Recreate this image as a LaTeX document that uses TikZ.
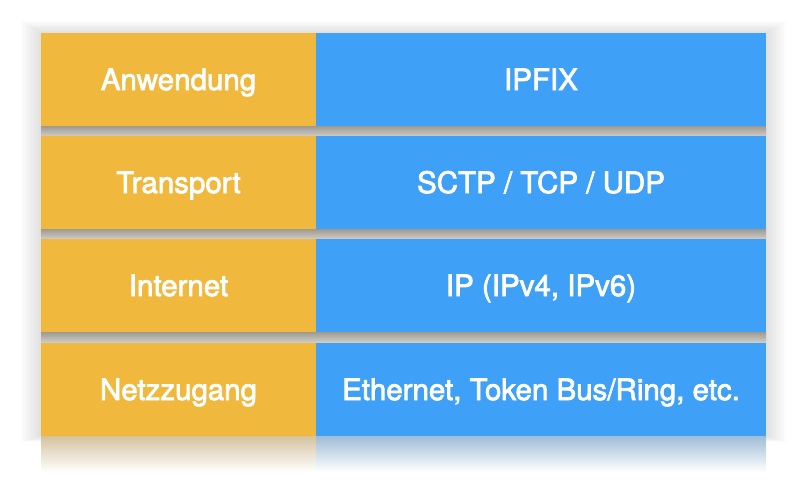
\documentclass[tikz,border=0pt]{standalone}
\usepackage{fontspec}
\setmainfont{TeX Gyre Heros}
\newfontfamily\medfont[FakeBold=2.5]{TeX Gyre Heros}
\usepackage{tikz}
\usetikzlibrary{positioning}
\definecolor{layerorange}{HTML}{F0B83C}
\definecolor{protoblue}{HTML}{3EA0F6}
\definecolor{bandgray}{HTML}{9E9A90}
\tikzset{
  layerbox/.style={rectangle, fill=layerorange, text=white, minimum width=275pt, minimum height=93pt, inner sep=0pt, text height=21pt, text depth=0pt, font=\medfont\fontsize{29.5}{33}\selectfont},
  protobox/.style={rectangle, fill=protoblue, text=white, minimum width=450pt, minimum height=93pt, inner sep=0pt, text height=21pt, text depth=0pt, font=\medfont\fontsize{29.5}{33}\selectfont},
  bandshade/.style={top color=bandgray, bottom color=bandgray!45!white}
}
\begin{document}
\begin{tikzpicture}[x=1pt, y=-1pt]
  \useasboundingbox (0,0) rectangle (800,480);
  % soft halo round the stack
  \foreach \d in {2,4,...,20}
    \fill[black, opacity=0.012] (41-\d,33-\d*0.6) rectangle (766+\d,436+\d*0.3);
  % fading reflection under the last row
  \fill[top color=layerorange!50!gray!60!white, bottom color=white] (41,436) rectangle (316,472);
  \fill[top color=protoblue!50!gray!60!white, bottom color=white] (316,436) rectangle (766,472);
  % shadow bands between rows
  \foreach \y in {126,229,332}
    \fill[bandshade] (41,\y) rectangle (766,\y+11);

  \node[layerbox] (app) at (178.5,79.5) {Anwendung};
  \node[protobox] (ipfix) at (541,79.5) {IPFIX};
  \node[layerbox] (trans) at (178.5,182.5) {Transport};
  \node[protobox] (sctp) at (541,182.5) {SCTP / TCP / UDP};
  \node[layerbox] (inet) at (178.5,285.5) {Internet};
  \node[protobox] (ip) at (541,285.5) {IP (IPv4, IPv6)};
  \node[layerbox] (netz) at (178.5,389.5) {Netzzugang};
  \node[protobox] (eth) at (541,389.5) {Ethernet, Token Bus/Ring, etc.};
\end{tikzpicture}
\end{document}
